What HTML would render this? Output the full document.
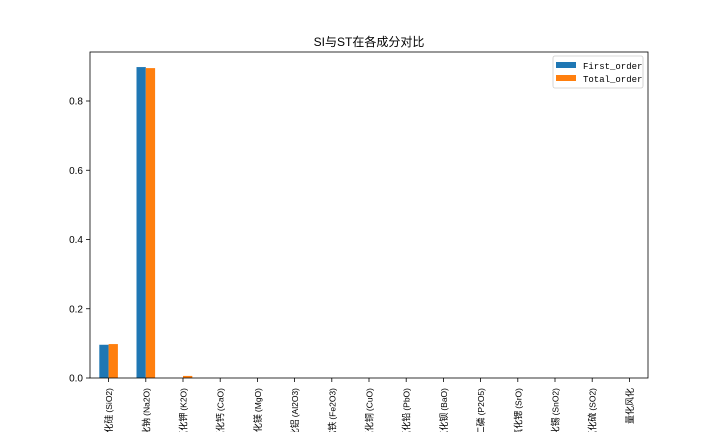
<!DOCTYPE html>
<html><head><meta charset="utf-8"><style>
html,body{margin:0;background:#fff;width:720px;height:432px;overflow:hidden;}
svg{display:block;overflow:hidden;font-family:"Liberation Mono","Noto Sans CJK SC",monospace;}
</style></head><body>
<svg id="chart" width="720" height="432"></svg>
<script>
const categories=["二氧化硅(SiO2)","氧化钠(Na2O)","氧化钾(K2O)","氧化钙(CaO)","氧化镁(MgO)","氧化铝(Al2O3)","氧化铁(Fe2O3)","氧化铜(CuO)","氧化铅(PbO)","氧化钡(BaO)","五氧化二磷(P2O5)","氧化锶(SrO)","氧化锡(SnO2)","二氧化硫(SO2)","量化风化"];
const firstOrder=[0.096,0.898,0,0,0,0,0,0,0,0,0,0,0,0,0];
const totalOrder=[0.098,0.895,0.006,0,0,0,0,0,0,0,0,0,0,0,0];
const yTicks=[0,0.2,0.4,0.6,0.8];
const yTickLabels=["0.0","0.2","0.4","0.6","0.8"];

const NS="http://www.w3.org/2000/svg";
const svg=document.getElementById('chart');
const L=90,R=648,T=52,B=378;
const yPerUnit=(B-101)/0.8;
const y=v=>B-v*yPerUnit;
const slot=(R-L)/categories.length;
const xc=i=>L+slot*(i+0.5);
const bw=slot*0.25;
function mk(tag,attrs,parent){const e=document.createElementNS(NS,tag);for(const k in attrs)e.setAttribute(k,attrs[k]);(parent||svg).appendChild(e);return e;}

const title=mk('text',{x:369,y:46,'text-anchor':'middle','font-size':12,fill:'#000','font-family':'"Liberation Sans","Noto Sans CJK SC",sans-serif'});


title.textContent='SI与ST在各成分对比';

categories.forEach((c,i)=>{
  const b1=mk('rect',{x:xc(i)-bw,y:y(firstOrder[i]),width:bw,height:B-y(firstOrder[i]),fill:'#1f77b4'});
  
  
  const b2=mk('rect',{x:xc(i),y:y(totalOrder[i]),width:bw,height:B-y(totalOrder[i]),fill:'#ff7f0e'});
  
  
  mk('line',{x1:xc(i),x2:xc(i),y1:B,y2:B+4,stroke:'#000','stroke-width':0.8});
  const t=mk('text',{transform:`translate(${xc(i)+3.5},${B+10}) rotate(-90)`,'text-anchor':'end','font-size':9,fill:'#000','font-family':'"Noto Sans CJK SC",sans-serif'});
  
  
  const k=c.indexOf('(');
  if(k>=0){
    const a=mk('tspan',{},t); a.textContent=c.slice(0,k);
    const b=mk('tspan',{'font-size':8.5,'font-family':'"Liberation Sans",sans-serif',dx:2},t); b.textContent=c.slice(k);
  } else t.textContent=c;
});

yTicks.forEach((v,i)=>{
  mk('line',{x1:L-4,x2:L,y1:y(v),y2:y(v),stroke:'#000','stroke-width':0.8});
  const t=mk('text',{x:L-7,y:y(v)+3.5,'text-anchor':'end','font-size':10,fill:'#000','font-family':'"Liberation Sans",sans-serif'});
  
  
  t.textContent=yTickLabels[i];
});

const frame=mk('rect',{x:L,y:T,width:R-L,height:B-T,fill:'none',stroke:'#000','stroke-width':0.8});



const lg=mk('g',{});


mk('rect',{x:553,y:56,width:90,height:32,fill:'#fff',stroke:'#ccc','stroke-width':0.8,rx:2},lg);
[['First_order','#1f77b4',62],['Total_order','#ff7f0e',75]].forEach(([n,c,yy])=>{
  const e=mk('g',{},lg);
  
  
  mk('rect',{x:556,y:yy,width:20,height:6,fill:c},e);
  const t=mk('text',{x:583,y:yy+7,'font-size':9,fill:'#000'},e);
  t.textContent=n;
});
</script>
</body></html>
